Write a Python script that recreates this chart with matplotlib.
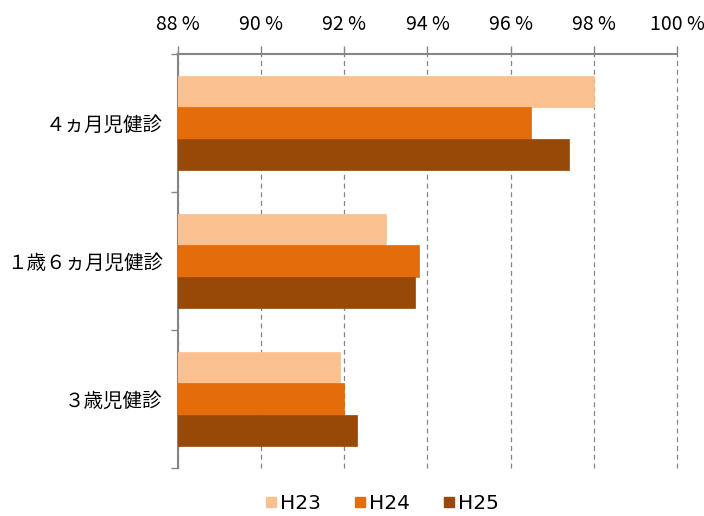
import matplotlib
matplotlib.use("Agg")
import matplotlib.pyplot as plt
from matplotlib.lines import Line2D
import numpy as np

plt.rcParams['font.family'] = ['Noto Sans CJK JP', 'DejaVu Sans']

categories = ["４ヵ月児健診", "１歳６ヵ月児健診", "３歳児健診"]
series_names = ["H23", "H24", "H25"]
h23 = [98.0, 93.0, 91.9]
h24 = [96.5, 93.8, 92.0]
h25 = [97.4, 93.7, 92.3]
x_ticks = [88, 90, 92, 94, 96, 98, 100]
tick_labels = ["88 %", "90 %", "92 %", "94 %", "96 %", "98 %", "100 %"]
colors = ["#FAC090", "#E46C0A", "#984807"]

fig = plt.figure(figsize=(7.04, 5.16), dpi=100)
ax = fig.add_axes([0.2528, 0.093, 0.7088, 0.8023])

y = np.arange(len(categories))
h = 0.227
for k, (vals, c, name) in enumerate(zip([h23, h24, h25], colors, series_names)):
    ax.barh(y + (k - 1) * h, vals, height=h, color=c, edgecolor=c,
            linewidth=0.5, label=name, zorder=3)

ax.set_xlim(88, 100)
ax.set_ylim(2.5, -0.5)

ax.xaxis.tick_top()
ax.set_xticks(x_ticks)
ax.set_xticklabels(tick_labels)
ax.tick_params(axis='x', direction='out', length=6, width=1, color='#868686',
               pad=8, labelcolor='black', labelsize=14)
ax.grid(axis='x', color='#868686', linestyle=(0, (4, 3)), linewidth=0.9, zorder=1)
for gl in ax.get_xgridlines():
    gl.set_clip_on(False)

# category labels at centers, tick marks at boundaries
ax.set_yticks(y)
ax.set_yticklabels(categories)
ax.tick_params(axis='y', which='major', length=0, pad=11, labelsize=14)
ax.set_yticks([-0.5, 0.5, 1.5, 2.5], minor=True)
ax.tick_params(axis='y', which='minor', direction='out', length=5, width=1,
               color='#868686')

for s in ['right', 'bottom']:
    ax.spines[s].set_visible(False)
for s in ['left', 'top']:
    ax.spines[s].set_color('#868686')
    ax.spines[s].set_linewidth(1.5)

handles = [Line2D([0], [0], marker='s', linestyle='none', markersize=7.5,
                  markerfacecolor=c, markeredgecolor=c) for c in colors]
fig.legend(handles, series_names, loc='center', ncol=3,
           bbox_to_anchor=(0.542, 0.024), frameon=False,
           prop={'family': 'DejaVu Sans', 'size': 14.5},
           handletextpad=0.1, columnspacing=1.6, handlelength=0.7)

fig.savefig("out.png", dpi=100)
